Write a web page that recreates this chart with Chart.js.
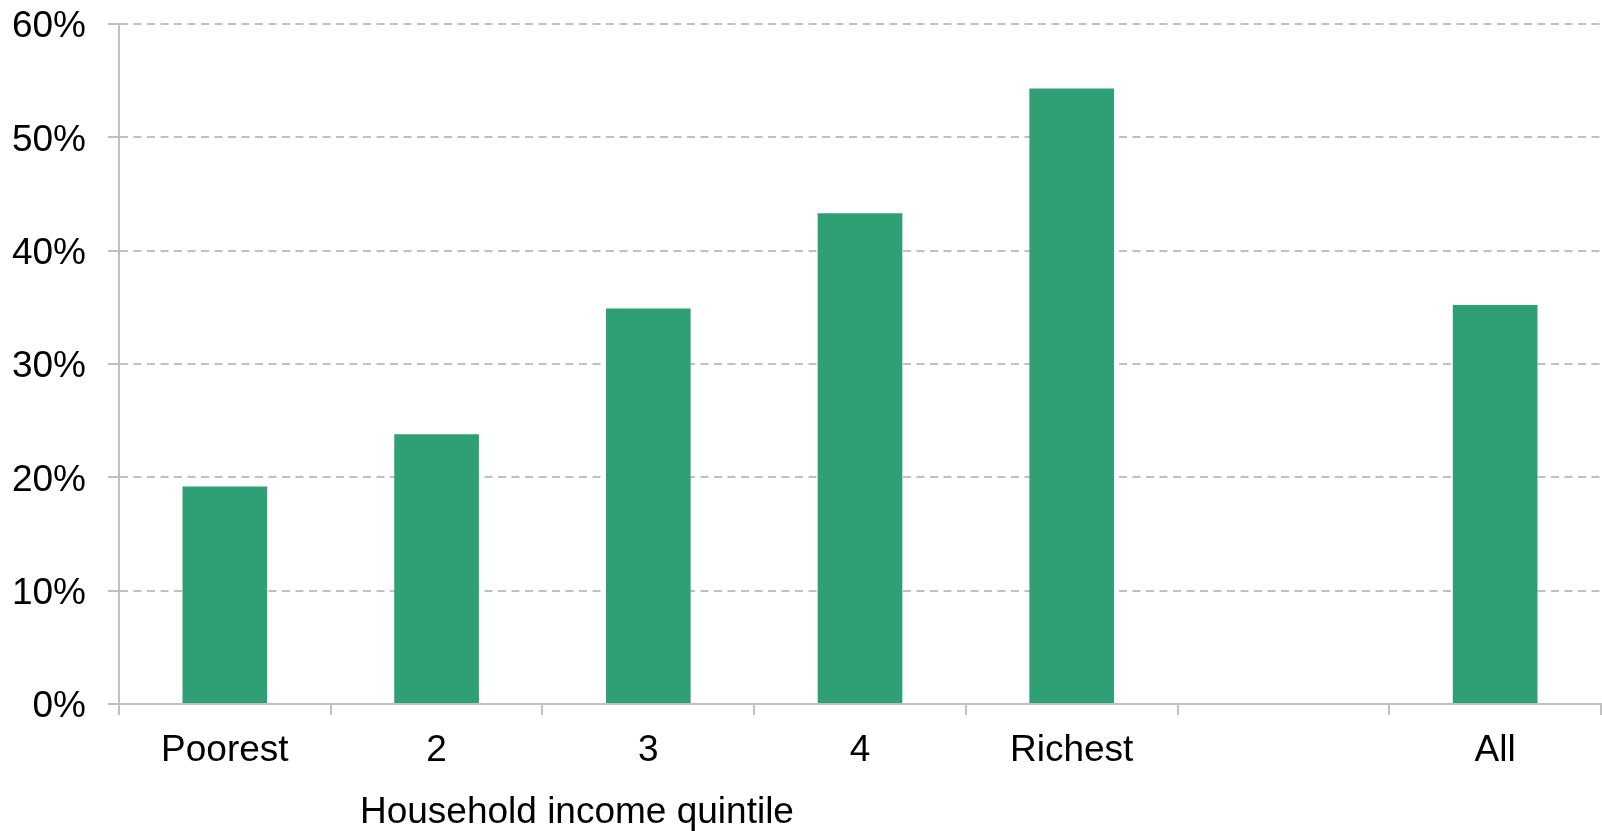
<!DOCTYPE html>
<html>
<head>
<meta charset="utf-8">
<script src="https://cdn.jsdelivr.net/npm/chart.js@4/dist/chart.umd.min.js"></script>
<style>
  html, body { margin: 0; padding: 0; background: #fff; }
  canvas { display: block; }
</style>
</head>
<body>
<canvas id="grafico" width="1602" height="831"></canvas>
<script>
// dados
const categorias = ['Poorest', '2', '3', '4', 'Richest', '', 'All'];
const valores = [19.2, 23.8, 34.9, 43.3, 54.3, null, 35.2];
const ticksY = [0, 10, 20, 30, 40, 50, 60];
const tituloX = 'Household income quintile';

const corBarra = '#2f9f75';
const cinza = '#c0c0c0';
const fonte = '"Liberation Sans", Arial, sans-serif';

// título do eixo x desenhado à mão (fica deslocado à esquerda no original)
const tituloPlugin = {
    id: 'tituloX',
    afterDraw(chart) {
        const x = chart.scales.x;
        const ctx = chart.ctx;
        ctx.save();
        ctx.fillStyle = '#000';
        ctx.font = '37px ' + fonte;
        ctx.textAlign = 'center';
        ctx.textBaseline = 'middle';
        ctx.fillText(tituloX, x.left + (x.right - x.left) * 0.309, 813);
        ctx.restore();
    }
};

new Chart(document.getElementById('grafico'), {
    type: 'bar',
    data: {
        labels: categorias,
        datasets: [{
            data: valores,
            backgroundColor: corBarra,
            borderWidth: 0,
            barPercentage: 0.4,
            categoryPercentage: 1.0
        }]
    },
    options: {
        responsive: false,
        animation: false,
        layout: { padding: { top: 24, right: 1, bottom: 0, left: 0 } },
        scales: {
            y: {
                min: 0,
                max: 60,
                afterBuildTicks: (s) => { s.ticks = ticksY.map(v => ({ value: v })); },
                afterFit: (s) => { s.width = 119; s.paddingTop = 0; s.paddingBottom = 0; },
                ticks: {
                    color: '#000',
                    padding: 22,
                    labelOffset: 3,
                    font: { family: fonte, size: 37 },
                    callback: (v) => v + '%'
                },
                grid: {
                    color: cinza,
                    lineWidth: 2,
                    tickLength: 11,
                    tickBorderDash: [],
                    tickColor: cinza
                },
                border: { display: true, color: cinza, width: 2, dash: [8, 5.5] }
            },
            x: {
                afterFit: (s) => { s.height = 127; },
                ticks: {
                    color: '#000',
                    padding: 14,
                    font: { family: fonte, size: 37 }
                },
                grid: {
                    offset: true,
                    drawOnChartArea: false,
                    color: cinza,
                    lineWidth: 2,
                    tickLength: 11
                },
                border: { display: true, color: cinza, width: 2 }
            }
        },
        plugins: {
            legend: { display: false },
            tooltip: { enabled: false }
        }
    },
    plugins: [tituloPlugin]
});
</script>
</body>
</html>
